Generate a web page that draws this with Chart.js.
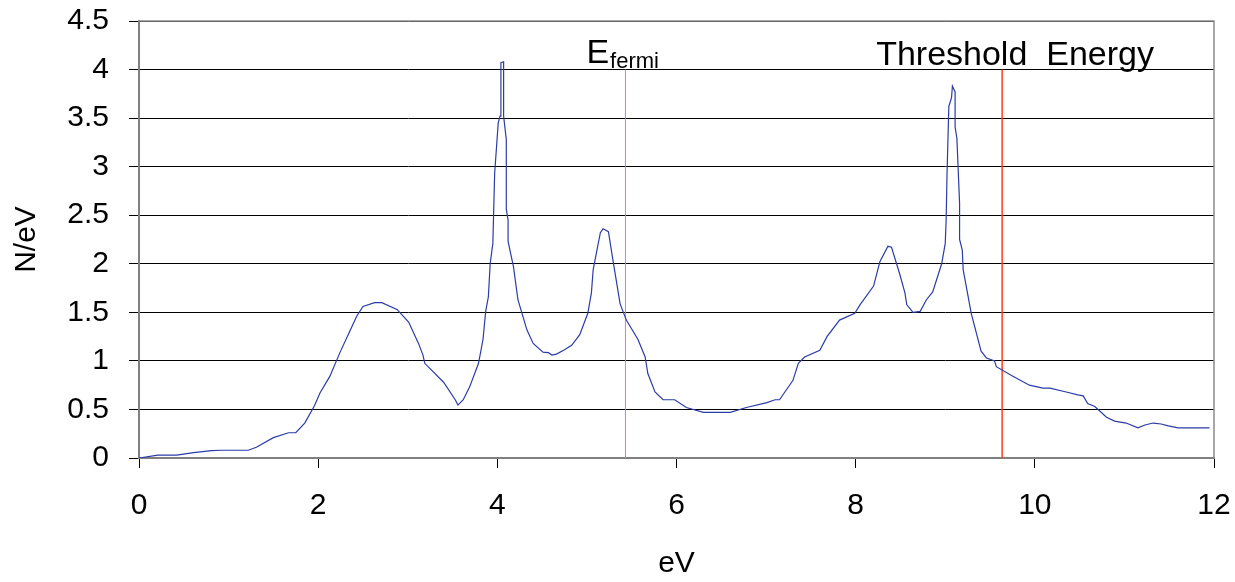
<!DOCTYPE html>
<html>
<head>
<meta charset="utf-8">
<script src="https://cdn.jsdelivr.net/npm/chart.js@4/dist/chart.umd.min.js"></script>
<style>
  html, body { margin: 0; padding: 0; background: #fff; }
  #wrap { width: 1235px; height: 582px; }
</style>
</head>
<body>
<div id="wrap"><canvas id="dos"></canvas></div>
<script>
// density of states, N/eV vs energy in eV
var energy = [
  0, 0.21, 0.42, 0.61, 0.81, 0.92, 1.22, 1.31, 1.50, 1.67, 1.75, 1.85, 1.96, 2.02, 2.13, 2.24,
  2.34, 2.43, 2.50, 2.63, 2.71, 2.88, 3.01, 3.12, 3.17, 3.19, 3.40, 3.53, 3.56, 3.62, 3.69, 3.79,
  3.84, 3.87, 3.90, 3.92, 3.95, 3.97, 4.01, 4.03, 4.04, 4.07, 4.07, 4.10, 4.10, 4.12, 4.12, 4.18,
  4.23, 4.33, 4.40, 4.51, 4.57, 4.61, 4.66, 4.74, 4.83, 4.92, 5.01, 5.05, 5.07, 5.15, 5.18, 5.24,
  5.29, 5.37, 5.44, 5.57, 5.65, 5.68, 5.76, 5.85, 5.98, 6.11, 6.30, 6.60, 6.78, 7.01, 7.10, 7.15,
  7.30, 7.36, 7.43, 7.60, 7.68, 7.82, 7.99, 8.05, 8.20, 8.27, 8.36, 8.40, 8.49, 8.55, 8.57, 8.64,
  8.72, 8.79, 8.86, 8.96, 9.00, 9.01, 9.02, 9.04, 9.07, 9.08, 9.11, 9.11, 9.13, 9.16, 9.16, 9.19,
  9.20, 9.29, 9.40, 9.46, 9.55, 9.57, 9.76, 9.94, 10.09, 10.17, 10.35, 10.48, 10.54, 10.59, 10.67,
  10.80, 10.89, 11.02, 11.15, 11.23, 11.32, 11.41, 11.49, 11.60, 11.77, 11.95
];
var density = [
  0, 0.03, 0.03, 0.055, 0.075, 0.08, 0.08, 0.11, 0.21, 0.26, 0.26, 0.36, 0.54, 0.67, 0.84, 1.08,
  1.28, 1.46, 1.56, 1.60, 1.60, 1.53, 1.40, 1.18, 1.06, 0.975, 0.78, 0.60, 0.545, 0.60, 0.73, 0.975,
  1.22, 1.51, 1.66, 2.0, 2.21, 2.93, 3.45, 3.52, 4.07, 4.08, 3.52, 3.28, 2.56, 2.45, 2.23, 1.97,
  1.63, 1.32, 1.18, 1.09, 1.085, 1.06, 1.07, 1.11, 1.16, 1.27, 1.49, 1.70, 1.94, 2.32, 2.36, 2.33,
  2.04, 1.59, 1.42, 1.22, 1.04, 0.87, 0.68, 0.60, 0.60, 0.52, 0.47, 0.47, 0.52, 0.57, 0.60, 0.60,
  0.80, 0.975, 1.04, 1.11, 1.25, 1.42, 1.49, 1.58, 1.77, 2.02, 2.18, 2.17, 1.90, 1.70, 1.58, 1.50,
  1.51, 1.63, 1.71, 2.0, 2.21, 2.45, 2.93, 3.62, 3.71, 3.83, 3.77, 3.41, 3.29, 2.62, 2.25, 2.14,
  1.94, 1.49, 1.10, 1.03, 1.00, 0.94, 0.84, 0.75, 0.72, 0.72, 0.68, 0.65, 0.64, 0.56, 0.53,
  0.42, 0.38, 0.36, 0.31, 0.34, 0.36, 0.35, 0.33, 0.31, 0.31, 0.31
];

// marker lines
var fermiEnergy = 5.43;
var thresholdEnergy = 9.635;
var markerTop = 4;

var xTicks = [0, 2, 4, 6, 8, 10, 12];
var yTicks = [0, 0.5, 1, 1.5, 2, 2.5, 3, 3.5, 4, 4.5];

var FONT = '"Liberation Sans", Arial, sans-serif';

var curve = energy.map(function (e, i) { return { x: e, y: density[i] }; });

function vline(x) {
  return [{ x: x, y: 0 }, { x: x, y: markerTop }];
}

// right/top frame and the two annotations
var frameAndLabels = {
  id: 'frameAndLabels',
  afterDraw: function (chart) {
    var ctx = chart.ctx;
    var a = chart.chartArea;
    ctx.save();
    ctx.strokeStyle = '#8c8c8c';
    ctx.lineWidth = 1.5;
    ctx.beginPath();
    ctx.moveTo(a.left, a.top);
    ctx.lineTo(a.right, a.top);
    ctx.lineTo(a.right, a.bottom);
    ctx.stroke();

    var xs = chart.scales.x;
    ctx.fillStyle = '#000';
    ctx.textBaseline = 'alphabetic';
    ctx.textAlign = 'left';

    var ex = xs.getPixelForValue(fermiEnergy) - 39;
    ctx.font = '34px ' + FONT;
    ctx.fillText('E', ex, a.top + 42);
    var ew = ctx.measureText('E').width;
    ctx.font = '22px ' + FONT;
    ctx.fillText('fermi', ex + ew + 1, a.top + 47);

    ctx.font = '34px ' + FONT;
    ctx.fillText('Threshold  Energy', xs.getPixelForValue(thresholdEnergy) - 126, a.top + 44);
    ctx.restore();
  }
};

function plain(v) { return String(v); }

new Chart(document.getElementById('dos'), {
  type: 'scatter',
  data: {
    datasets: [
      {
        data: curve,
        showLine: true,
        borderColor: '#2b3ca8',
        borderWidth: 1.2,
        pointRadius: 0,
        tension: 0
      },
      {
        data: vline(fermiEnergy),
        showLine: true,
        borderColor: '#e070e0',
        borderWidth: 1,
        pointRadius: 0
      },
      {
        data: vline(thresholdEnergy),
        showLine: true,
        borderColor: '#ff3c1e',
        borderWidth: 1.5,
        pointRadius: 0
      }
    ]
  },
  options: {
    responsive: true,
    maintainAspectRatio: false,
    animation: false,
    layout: { padding: { top: 21, right: 21, left: 0, bottom: 0 } },
    plugins: { legend: { display: false }, tooltip: { enabled: false } },
    scales: {
      x: {
        type: 'linear',
        min: 0,
        max: 12,
        afterBuildTicks: function (s) { s.ticks = xTicks.map(function (v) { return { value: v }; }); },
        afterFit: function (s) { s.height = 124; s.paddingLeft = 0; s.paddingRight = 0; },
        grid: { drawOnChartArea: false, drawTicks: true, tickLength: 10, color: '#000' },
        border: { color: '#808080', width: 2 },
        ticks: { color: '#000', font: { family: FONT, size: 30 }, padding: 20, maxRotation: 0, callback: plain },
        title: { display: true, text: 'eV', color: '#000', font: { family: FONT, size: 30 }, padding: { top: 0, bottom: 0 } }
      },
      y: {
        min: 0,
        max: 4.5,
        afterBuildTicks: function (s) { s.ticks = yTicks.map(function (v) { return { value: v }; }); },
        afterFit: function (s) { s.width = 139; s.paddingTop = 0; s.paddingBottom = 0; },
        grid: { color: '#000', lineWidth: 1, drawTicks: true, tickLength: 10 },
        border: { color: '#808080', width: 2 },
        ticks: { color: '#000', font: { family: FONT, size: 30 }, padding: 20, callback: plain },
        title: { display: true, text: 'N/eV', color: '#000', font: { family: FONT, size: 30 }, padding: { top: 9, bottom: 0 } }
      }
    }
  },
  plugins: [frameAndLabels]
});
</script>
</body>
</html>
